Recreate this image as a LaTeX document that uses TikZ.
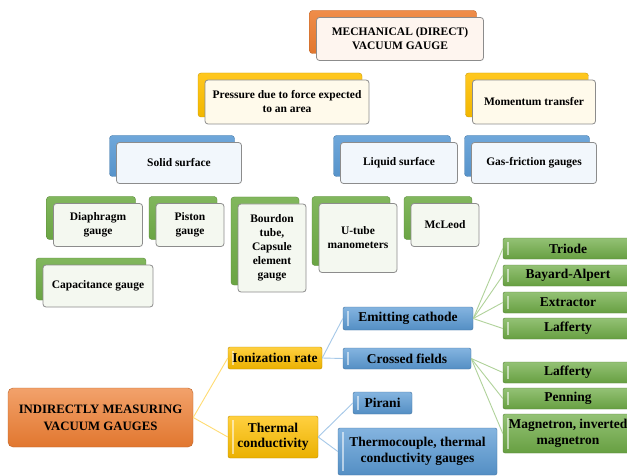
\documentclass[tikz,border=0pt]{standalone}
\usepackage{fontspec}
\setmainfont{Liberation Serif}
\usepackage{tikz}
\usetikzlibrary{positioning,calc}
\definecolor{vacorange}{HTML}{ED7D31}
\definecolor{vacgold}{HTML}{FFC000}
\definecolor{vacblue}{HTML}{5B9BD5}
\definecolor{vacgreen}{HTML}{70AD47}
\newcommand{\toptext}{\fontsize{11.5}{14}\selectfont\bfseries}
\newcommand{\bottext}{\fontsize{13.5}{15.5}\selectfont\bfseries}
\pgfdeclarelayer{background}
\pgfsetlayers{background,main}
\tikzset{
    tier/.style={rounded corners=3pt,inner sep=1pt,align=center},
    backbox/.style={tier,draw=#1!80!black,top color=#1!88!white,bottom color=#1!95!black},
    frontbox/.style={tier,draw=black!45,fill=#1!8!white,line width=0.8pt,font=\toptext},
    mapbox/.style={rounded corners=2pt,inner sep=1pt,align=center,font=\bottext,
        draw=#1!75!black,top color=#1!75!white,bottom color=#1!92!black,
        path picture={\draw[white,opacity=0.55,line width=1.1pt]
            ([xshift=5pt,yshift=4pt]path picture bounding box.south west) --
            ([xshift=5pt,yshift=-4pt]path picture bounding box.north west);}},
    link/.style={draw=#1!55!white,line width=0.9pt},
}
% back box and the lighter box laid over it
\newcommand{\tierbox}[6]{%
    \node[backbox=#1,minimum width=#4pt,minimum height=#5pt] (#2) at #3 {};
    \node[frontbox=#1,minimum width=#4pt,minimum height=#5pt] (#2-f) at ([shift={(7,7)}]#2.center) {#6};}

\begin{document}
\begin{tikzpicture}[x=1pt,y=-1pt]
    \path[use as bounding box,fill=white] (0,0) rectangle (627,476);

    % mechanical (direct) gauges
    \tierbox{vacorange}{mech}{(393,32)}{167}{43}{MECHANICAL (DIRECT)\\VACUUM GAUGE}
    \tierbox{vacgold}{press}{(280,95)}{164}{44}{Pressure due to force expected\\to an area}
    \tierbox{vacgold}{mom}{(527,95)}{123}{44}{Momentum transfer}
    \tierbox{vacblue}{solid}{(172,156)}{125}{41}{Solid surface}
    \tierbox{vacblue}{liquid}{(392,156)}{117}{41}{Liquid surface}
    \tierbox{vacblue}{gas}{(527,156)}{125}{41}{Gas-friction gauges}
    \tierbox{vacgreen}{dia}{(91,218)}{89}{43}{Diaphragm\\gauge}
    \tierbox{vacgreen}{piston}{(183,218)}{68}{43}{Piston\\gauge}
    \tierbox{vacgreen}{bourdon}{(265,241)}{68}{88}{Bourdon\\tube,\\Capsule\\element\\gauge}
    \tierbox{vacgreen}{cap}{(91,279)}{110}{42}{Capacitance gauge}
    \tierbox{vacgreen}{utube}{(351,231)}{78}{69}{U-tube\\manometers}
    \tierbox{vacgreen}{mcleod}{(438,218)}{68}{43}{McLeod}

    % indirect gauges
    \node[rounded corners=5pt,draw=vacorange!80!black,top color=vacorange!72!white,bottom color=vacorange!95!black,
        minimum width=185pt,minimum height=59pt,align=center,font=\fontsize{12.8}{17}\selectfont\bfseries]
        (indir) at (100.5,417.5) {INDIRECTLY MEASURING\\VACUUM GAUGES};
    \node[mapbox=vacgold,minimum width=94pt,minimum height=22pt] (ion) at (275,358) {Ionization rate};
    \node[mapbox=vacgold,minimum width=90pt,minimum height=42pt] (therm) at (273,437) {Thermal\\conductivity};
    \node[mapbox=vacblue,minimum width=130pt,minimum height=23pt] (emit) at (408,318.5) {Emitting cathode};
    \node[mapbox=vacblue,minimum width=128pt,minimum height=21pt] (cross) at (407,358.5) {Crossed fields};
    \node[mapbox=vacblue,minimum width=59pt,minimum height=22pt] (pirani) at (382.5,403) {Pirani};
    \node[mapbox=vacblue,minimum width=159pt,minimum height=47pt] (thermo) at (417.5,451.5) {Thermocouple, thermal\\conductivity gauges};
    \node[mapbox=vacgreen,minimum width=130pt,minimum height=21pt] (triode) at (568,248.5) {Triode};
    \node[mapbox=vacgreen,minimum width=130pt,minimum height=21pt] (bayard) at (568,275.5) {Bayard-Alpert};
    \node[mapbox=vacgreen,minimum width=130pt,minimum height=21pt] (extract) at (568,302.5) {Extractor};
    \node[mapbox=vacgreen,minimum width=130pt,minimum height=21pt] (laff) at (568,328.5) {Lafferty};
    \node[mapbox=vacgreen,minimum width=130pt,minimum height=21pt] (laffx) at (568,372.5) {Lafferty};
    \node[mapbox=vacgreen,minimum width=130pt,minimum height=21pt] (penning) at (568,398.5) {Penning};
    \node[mapbox=vacgreen,minimum width=130pt,minimum height=39pt] (magnet) at (568,433.5) {Magnetron, inverted\\magnetron};

    \begin{pgfonlayer}{background}
        \draw[link=vacgold] (mech.center) -- ++(0,35) -| (press.center);
        \draw[link=vacgold] (mech.center) -- ++(0,35) -| (mom.center);
        \draw[link=vacblue] (press.center) -- ++(0,33) -| (solid.center);
        \draw[link=vacblue] (press.center) -- ++(0,33) -| (liquid.center);
        \draw[link=vacblue] (mom.center) -- (gas.center);
        \foreach \leaf in {dia,piston,bourdon}
            \draw[link=vacgreen] (solid.center) -- ++(0,35) -| (\leaf.center);
        \foreach \leaf in {utube,mcleod}
            \draw[link=vacgreen] (liquid.center) -- ++(0,35) -| (\leaf.center);
        \draw[link=vacgreen] (dia.center) -- (cap.center);
    \end{pgfonlayer}

    \draw[link=vacgold] (indir.east) -- (ion.west);
    \draw[link=vacgold] (indir.east) -- (therm.west);
    \draw[link=vacblue] (ion.east) -- (emit.west);
    \draw[link=vacblue] (ion.east) -- (cross.west);
    \draw[link=vacblue] (therm.east) -- (pirani.west);
    \draw[link=vacblue] (therm.east) -- (thermo.west);
    \foreach \leaf in {triode,bayard,extract,laff}
        \draw[link=vacgreen] (emit.east) -- (\leaf.west);
    \foreach \leaf in {laffx,penning,magnet}
        \draw[link=vacgreen] (cross.east) -- (\leaf.west);
\end{tikzpicture}
\end{document}
